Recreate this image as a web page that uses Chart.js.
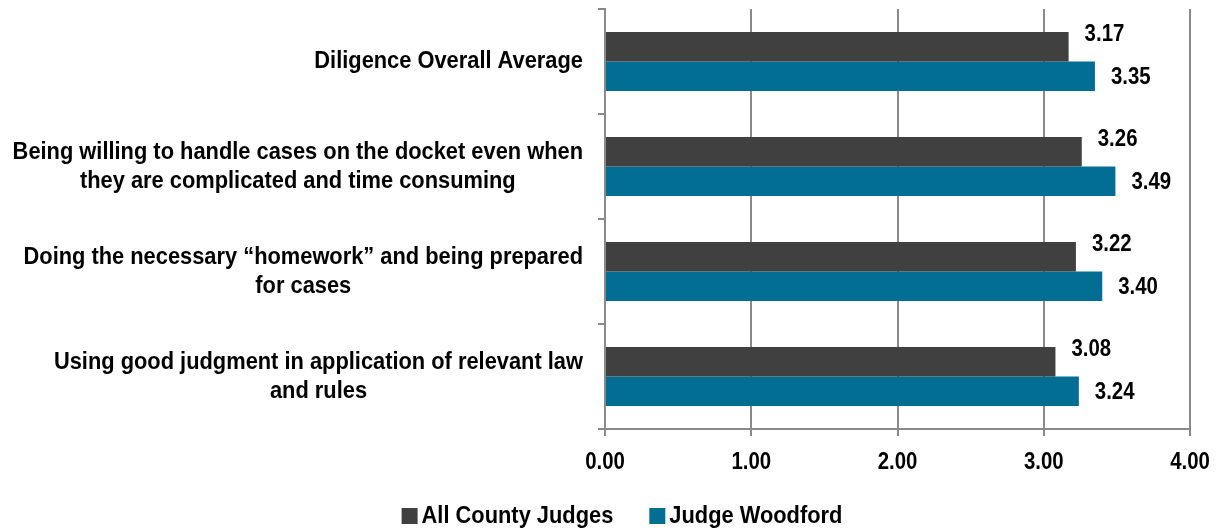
<!DOCTYPE html>
<html>
<head>
    <style>
        html, body { margin: 0; padding: 0; background: #fff; }
        #wrap { width: 1220px; height: 531px; position: relative; }
    </style>
</head>
<body>
    <div id="wrap"><canvas id="chart"></canvas></div>
    <script src="https://cdn.jsdelivr.net/npm/chart.js@4"></script>
    <script>
        const categories = [
            ['Diligence Overall Average'],
            ['Being willing to handle cases on the docket even when', 'they are complicated and time consuming'],
            ['Doing the necessary \u201chomework\u201d and being prepared', 'for cases'],
            ['Using good judgment in application of relevant law', 'and rules']
        ];
        const seriesNames = ['All County Judges', 'Judge Woodford'];
        const allCountyJudges = [3.17, 3.26, 3.22, 3.08];
        const judgeWoodford = [3.35, 3.49, 3.40, 3.24];
        const xTicks = [0, 1, 2, 3, 4];
        const colors = ['#404040', '#036E94'];

        // no narrow font installed, so squeeze Liberation Sans Bold sideways
        const FONT = 'bold 24px "Liberation Sans", Arial, sans-serif';
        const TEXT_SQUEEZE = 0.91;
        const DIGIT_SQUEEZE = 0.85;

        function drawText(ctx, text, x, y, align, squeeze) {
            ctx.save();
            ctx.translate(x, y);
            ctx.scale(squeeze, 1);
            ctx.textAlign = align;
            ctx.fillText(text, 0, 0);
            ctx.restore();
        }

        const textLayer = {
            id: 'textLayer',
            afterDraw(chart) {
                const ctx = chart.ctx;
                const xs = chart.scales.x;
                const ys = chart.scales.y;
                const area = chart.chartArea;
                ctx.save();
                ctx.font = FONT;
                ctx.fillStyle = '#000';
                ctx.textBaseline = 'middle';

                // category labels: each block centred on itself, blocks right-aligned
                const right = area.left - 22;
                categories.forEach((lines, i) => {
                    const w = Math.max(...lines.map(l => ctx.measureText(l).width)) * TEXT_SQUEEZE;
                    const cy = ys.getPixelForValue(i);
                    lines.forEach((l, j) => {
                        drawText(ctx, l, right - w / 2, cy + (j - (lines.length - 1) / 2) * 29, 'center', TEXT_SQUEEZE);
                    });
                });

                // x tick labels
                xTicks.forEach(v => {
                    drawText(ctx, v.toFixed(2), xs.getPixelForValue(v), area.bottom + 33, 'center', DIGIT_SQUEEZE);
                });

                // value labels
                chart.data.datasets.forEach((ds, di) => {
                    chart.getDatasetMeta(di).data.forEach((bar, i) => {
                        const dy = di === 0 ? -12 : 1;
                        drawText(ctx, ds.data[i].toFixed(2), bar.x + 16, bar.y + dy, 'left', DIGIT_SQUEEZE);
                    });
                });

                // legend
                const widths = seriesNames.map(n => ctx.measureText(n).width * TEXT_SQUEEZE);
                const box = 16, gap = 4, spacing = 36;
                const total = widths.reduce((a, b) => a + b, 0) + 2 * (box + gap) + spacing;
                let lx = 622 - total / 2;
                const ly = 516;
                seriesNames.forEach((n, i) => {
                    ctx.fillStyle = colors[i];
                    ctx.fillRect(lx, ly - box / 2, box, box);
                    ctx.fillStyle = '#000';
                    drawText(ctx, n, lx + box + gap, ly, 'left', TEXT_SQUEEZE);
                    lx += box + gap + widths[i] + spacing;
                });
                ctx.restore();
            }
        };

        new Chart(document.getElementById('chart'), {
            type: 'bar',
            data: {
                labels: categories.map(c => c.join(' ')),
                datasets: [
                    {
                        label: seriesNames[0],
                        data: allCountyJudges,
                        backgroundColor: colors[0],
                        categoryPercentage: 0.56,
                        barPercentage: 1
                    },
                    {
                        label: seriesNames[1],
                        data: judgeWoodford,
                        backgroundColor: colors[1],
                        categoryPercentage: 0.56,
                        barPercentage: 1
                    }
                ]
            },
            options: {
                indexAxis: 'y',
                responsive: true,
                maintainAspectRatio: false,
                animation: false,
                layout: { padding: { top: 9, right: 30, bottom: 0, left: 0 } },
                scales: {
                    x: {
                        min: 0,
                        max: 4,
                        afterBuildTicks: s => { s.ticks = xTicks.map(v => ({ value: v })); },
                        ticks: { display: false },
                        afterFit: s => { s.height = 102; },
                        grid: { color: '#8a8a8a', lineWidth: 2, tickLength: 7 },
                        border: { color: '#8a8a8a', width: 2 }
                    },
                    y: {
                        ticks: { display: false },
                        afterFit: s => { s.width = 605; },
                        grid: { drawOnChartArea: false, color: '#8a8a8a', lineWidth: 2, tickLength: 7, offset: true },
                        border: { color: '#8a8a8a', width: 2 }
                    }
                },
                plugins: {
                    legend: { display: false },
                    tooltip: { enabled: false }
                }
            },
            plugins: [textLayer]
        });
    </script>
</body>
</html>
